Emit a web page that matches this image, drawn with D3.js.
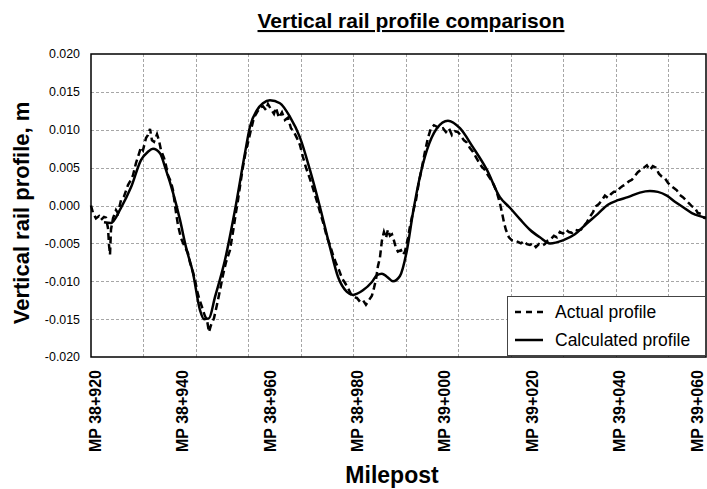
<!DOCTYPE html>
<html>
<head>
<meta charset="utf-8">
<script src="https://cdn.jsdelivr.net/npm/d3@7"></script>
<style>
  html, body { margin: 0; padding: 0; background: #fff; }
  svg { display: block; font-family: "Liberation Sans", Arial, sans-serif; }
</style>
</head>
<body>
<svg id="chart" width="707" height="489"></svg>
<script>
// ---- data (distance in metres from MP 38+920, profile in metres) ----
const calcDist = [2.97,4.57,6.86,9.15,11.44,13.04,14.18,15.78,17.15,18.76,20.36,21.73,23.33,24.93,25.85,26.99,28.36,30.65,32.94,35.22,36.37,37.97,39.34,40.94,43.23,45.52,47.80,50.09,52.38,54.67,56.50,58.55,59.93,62.21,64.27,65.42,66.56,67.70,69.08,70.68,72.28,73.65,75.25,76.85,79.14,81.66,84.40,87.37,90.58,93.55,95.84,98.13,100.41,102.70,104.99,107.96,110.70,112.99,115.96,118.25,120.54,122.83,125.57,127.86,129.69,131.75,133.58,135.64,137.47,139.30,140.67];
const calcVal = [-0.0022,-0.0023,-0.0003,0.0024,0.0060,0.0071,0.0075,0.0069,0.0047,0.0017,-0.0019,-0.0055,-0.0089,-0.0138,-0.0150,-0.0149,-0.0121,-0.0072,-0.0006,0.0069,0.0104,0.0126,0.0135,0.0139,0.0135,0.0117,0.0090,0.0047,-0.0002,-0.0055,-0.0094,-0.0114,-0.0118,-0.0112,-0.0101,-0.0092,-0.0090,-0.0094,-0.0100,-0.0093,-0.0059,-0.0010,0.0038,0.0073,0.0102,0.0112,0.0102,0.0077,0.0047,0.0011,-0.0003,-0.0018,-0.0032,-0.0042,-0.0050,-0.0046,-0.0038,-0.0026,-0.0011,0.0001,0.0007,0.0011,0.0017,0.0019,0.0018,0.0013,0.0005,-0.0003,-0.0010,-0.0014,-0.0016];

const actualDist = [0,0.46,1.14,1.83,2.29,2.97,3.43,3.89,4.12,4.35,4.57,5.03,5.72,6.18,6.86,7.55,8.46,9.15,9.61,10.29,10.75,11.44,11.89,12.58,13.04,13.50,13.95,14.41,15.10,15.55,16.01,16.70,17.15,17.61,18.30,18.76,19.44,19.90,20.59,21.27,22.19,22.64,23.33,23.79,24.25,24.70,25.39,26.07,26.53,26.99,27.45,28.13,28.82,29.51,30.19,30.88,31.79,32.48,33.17,33.62,34.31,34.77,35.45,35.91,36.60,37.28,37.97,38.65,39.34,40.03,40.49,41.17,41.86,42.31,43.00,43.69,44.37,45.06,45.75,46.43,47.12,47.80,48.49,49.18,49.86,50.55,51.24,51.92,52.61,53.29,53.98,54.67,55.35,56.04,56.73,57.41,58.10,58.79,59.47,60.16,60.84,61.53,62.22,62.90,63.59,64.27,64.73,65.19,65.65,66.10,66.56,67.02,67.48,67.93,68.39,68.85,69.30,69.76,70.22,70.91,71.36,71.82,72.51,72.96,73.65,74.34,75.02,75.71,76.40,77.08,77.77,78.45,79.14,79.83,80.51,81.20,81.89,82.57,83.26,83.94,84.63,85.32,86.00,86.69,87.37,88.06,88.75,89.43,90.12,90.80,91.49,92.18,92.86,93.55,94.01,94.47,94.92,95.61,96.29,96.98,97.67,98.35,99.04,99.73,100.41,101.10,101.78,102.47,103.16,103.84,104.53,105.22,105.90,106.59,107.27,107.96,108.65,109.33,110.02,110.70,111.39,112.08,112.76,113.45,114.14,114.82,115.51,116.19,116.88,117.57,118.25,118.94,119.62,120.31,121.00,121.68,122.37,123.05,123.74,124.43,125.11,125.80,126.49,127.17,127.86,128.54,129.23,129.92,130.60,131.29,131.98,132.66,133.35,134.03,134.72,135.41,136.09,136.78,137.47,138.15,138.84,139.52,140.21,140.67];
const actualVal = [0.0000,-0.0010,-0.0017,-0.0014,-0.0019,-0.0015,-0.0016,-0.0030,-0.0052,-0.0065,-0.0032,-0.0017,-0.0006,-0.0010,0.0007,0.0012,0.0027,0.0034,0.0040,0.0056,0.0064,0.0077,0.0073,0.0089,0.0093,0.0101,0.0086,0.0084,0.0094,0.0086,0.0073,0.0063,0.0053,0.0040,0.0031,0.0020,-0.0009,-0.0026,-0.0043,-0.0052,-0.0063,-0.0075,-0.0088,-0.0098,-0.0112,-0.0122,-0.0134,-0.0146,-0.0151,-0.0167,-0.0158,-0.0149,-0.0131,-0.0112,-0.0092,-0.0075,-0.0059,-0.0035,-0.0009,0.0007,0.0034,0.0051,0.0073,0.0083,0.0100,0.0116,0.0123,0.0129,0.0131,0.0126,0.0134,0.0127,0.0121,0.0129,0.0116,0.0123,0.0113,0.0116,0.0102,0.0097,0.0089,0.0080,0.0064,0.0050,0.0039,0.0027,0.0014,0.0001,-0.0013,-0.0026,-0.0042,-0.0052,-0.0065,-0.0076,-0.0085,-0.0096,-0.0102,-0.0109,-0.0117,-0.0121,-0.0122,-0.0127,-0.0125,-0.0131,-0.0125,-0.0119,-0.0109,-0.0098,-0.0080,-0.0069,-0.0046,-0.0035,-0.0043,-0.0032,-0.0040,-0.0038,-0.0046,-0.0056,-0.0061,-0.0059,-0.0065,-0.0061,-0.0043,-0.0028,-0.0009,0.0007,0.0031,0.0050,0.0071,0.0089,0.0102,0.0106,0.0104,0.0101,0.0102,0.0097,0.0102,0.0093,0.0098,0.0097,0.0092,0.0086,0.0083,0.0076,0.0071,0.0064,0.0057,0.0051,0.0047,0.0040,0.0034,0.0027,0.0017,0.0003,-0.0009,-0.0022,-0.0032,-0.0042,-0.0046,-0.0046,-0.0048,-0.0050,-0.0047,-0.0051,-0.0052,-0.0050,-0.0055,-0.0051,-0.0053,-0.0051,-0.0046,-0.0044,-0.0040,-0.0042,-0.0035,-0.0037,-0.0032,-0.0035,-0.0036,-0.0032,-0.0033,-0.0032,-0.0027,-0.0022,-0.0015,-0.0009,-0.0001,0.0002,0.0007,0.0013,0.0010,0.0015,0.0018,0.0018,0.0023,0.0026,0.0028,0.0032,0.0034,0.0039,0.0044,0.0047,0.0050,0.0053,0.0047,0.0052,0.0050,0.0042,0.0038,0.0036,0.0030,0.0026,0.0023,0.0020,0.0014,0.0011,0.0007,0.0003,-0.0001,-0.0003,-0.0010,-0.0011,-0.0016,-0.0017];

const xTickDist = [0,20,40,60,80,100,120,140];
const xTickLabels = ["MP 38+920","MP 38+940","MP 38+960","MP 38+980","MP 39+000","MP 39+020","MP 39+040","MP 39+060"];
const xGridDist = [12,24,36,48,60,72,84,96,108,120,132];
const yTicks = [-0.020,-0.015,-0.010,-0.005,0.000,0.005,0.010,0.015,0.020];
const seriesNames = ["Actual profile","Calculated profile"];

// ---- chart ----
const W = 707;
const svg = d3.select("#chart");
const L = 91, R = 706, T = 54, B = 357;
const x = d3.scaleLinear().domain([0, 140.7]).range([L, R]);
const y = d3.scaleLinear().domain([-0.02, 0.02]).range([B, T]);

// gridlines
const grid = svg.append("g").attr("stroke", "#a6a6a6").attr("stroke-width", 1).attr("stroke-dasharray", "3,2");
grid.selectAll("line.h").data(yTicks.slice(1, -1)).join("line")
  .attr("x1", L).attr("x2", R).attr("y1", d => Math.round(y(d)) + 0.5).attr("y2", d => Math.round(y(d)) + 0.5);
grid.selectAll("line.v").data(xGridDist).join("line")
  .attr("y1", T).attr("y2", B).attr("x1", d => Math.round(x(d)) + 0.5).attr("x2", d => Math.round(x(d)) + 0.5);

// y axis labels
const yAxis = d3.axisLeft(y).tickValues(yTicks).tickFormat(d3.format(".3f")).tickSize(0).tickPadding(11);
const gy = svg.append("g").attr("transform", `translate(${L},0)`).call(yAxis);
gy.select(".domain").remove();
gy.selectAll("text").attr("font-size", 12.4).attr("fill", "#000")
  .attr("font-family", "'Liberation Sans', Arial, sans-serif")
  .text(d => d3.format(".3f")(d).replace("−", "-"));

// x axis labels (rotated); keep the last one inside the page edge
const xAxis = d3.axisBottom(x).tickValues(xTickDist).tickFormat((d, i) => xTickLabels[i]).tickSize(0);
const gx = svg.append("g").attr("transform", `translate(0,${B})`).call(xAxis);
gx.select(".domain").remove();
gx.selectAll("text")
  .attr("font-size", 16).attr("font-weight", "bold").attr("fill", "#000")
  .attr("font-family", "'Liberation Sans', Arial, sans-serif")
  .attr("text-anchor", "end")
  .attr("transform", "translate(0,13) rotate(-90)")
  .attr("x", 0).attr("y", 0)
  .attr("dy", d => Math.min(9.2, (W - 5) - x(d)));

// lines
const line = d3.line().x(d => x(d[0])).y(d => y(d[1]));
const actualPts = actualDist.map((d, i) => [d, actualVal[i]]);
const calcPts = calcDist.map((d, i) => [d, calcVal[i]]);
const lineCurve = d3.line().x(d => x(d[0])).y(d => y(d[1])).curve(d3.curveMonotoneX);

svg.append("path").datum(calcPts).attr("d", lineCurve)
  .attr("fill", "none").attr("stroke", "#000").attr("stroke-width", 2.5).attr("stroke-linejoin", "round");
svg.append("path").datum(actualPts).attr("d", line)
  .attr("fill", "none").attr("stroke", "#000").attr("stroke-width", 2.5).attr("stroke-dasharray", "7,4");

// plot border
svg.append("rect").attr("x", L).attr("y", T).attr("width", R - L).attr("height", B - T)
  .attr("fill", "none").attr("stroke", "#000").attr("stroke-width", 1.5);

// legend
const lg = svg.append("g");
lg.append("rect").attr("x", 507.5).attr("y", 296.5).attr("width", 198).attr("height", 59)
  .attr("fill", "#fff").attr("stroke", "#444").attr("stroke-width", 1);
const rows = [{name: seriesNames[0], dash: "6,5", y: 312}, {name: seriesNames[1], dash: null, y: 340}];
rows.forEach(r => {
  lg.append("line").attr("x1", 515).attr("x2", 543).attr("y1", r.y).attr("y2", r.y)
    .attr("stroke", "#000").attr("stroke-width", 2.5).attr("stroke-dasharray", r.dash);
  lg.append("text").attr("x", 555).attr("y", r.y).attr("dy", "0.35em")
    .attr("font-size", 17.5).attr("fill", "#000").text(r.name);
});

// titles
svg.append("text").attr("x", 411).attr("y", 28).attr("text-anchor", "middle")
  .attr("font-size", 21).attr("font-weight", "bold").style("text-decoration", "underline")
  .text("Vertical rail profile comparison");
svg.append("text").attr("transform", "translate(29,213) rotate(-90)").attr("text-anchor", "middle")
  .attr("font-size", 22).attr("font-weight", "bold").text("Vertical rail profile, m");
svg.append("text").attr("x", 392).attr("y", 483).attr("text-anchor", "middle")
  .attr("font-size", 23).attr("font-weight", "bold").text("Milepost");
</script>
</body>
</html>
